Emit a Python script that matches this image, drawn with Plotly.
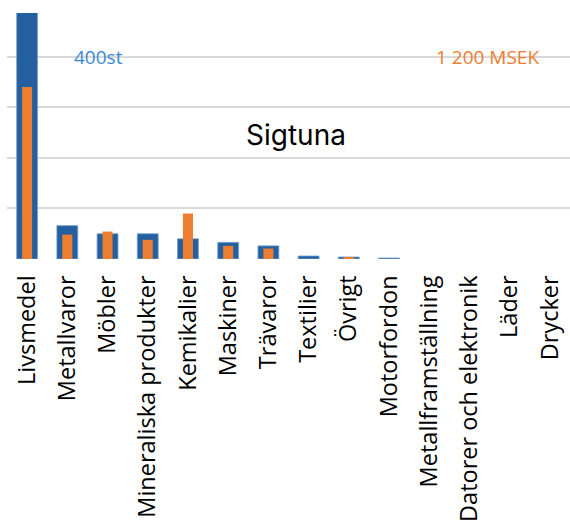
import plotly.graph_objects as go

# Branscher i Sigtuna: antal (st) och omsättning (MSEK)
branscher = ["Livsmedel", "Metallvaror", "Möbler", "Mineraliska produkter", "Kemikalier",
             "Maskiner", "Trävaror", "Textilier", "Övrigt", "Motorfordon",
             "Metallframställning", "Datorer och elektronik", "Läder", "Drycker"]
antal_st = [490, 66, 50, 50, 40, 33, 26, 6, 4, 2, 0, 0, 0, 0]
omsattning_msek = [1022, 145, 163, 114, 270, 78, 62, 0, 9, 0, 0, 0, 0, 0]

BLUE = "#24609F"
ORANGE = "#ED7D31"
ST_MAX = 486.9
MSEK_MAX = ST_MAX * 3

fig = go.Figure()
fig.add_trace(go.Bar(
    x=branscher, y=antal_st, width=0.52,
    marker=dict(color=BLUE,
                line=dict(color="rgba(120,160,210,0.8)",
                          width=[1 if v > 0 else 0 for v in antal_st])),
    yaxis="y", showlegend=False,
))
fig.add_trace(go.Bar(
    x=branscher, y=omsattning_msek, width=0.25,
    marker=dict(color=ORANGE, line=dict(width=0)),
    yaxis="y2", showlegend=False,
))

fig.update_layout(
    width=570, height=525,
    margin=dict(l=7, r=0, t=13, b=265.5),
    paper_bgcolor="white", plot_bgcolor="white",
    barmode="overlay",
    xaxis=dict(
        type="category", tickangle=-90, showgrid=False, zeroline=False,
        ticks="outside", ticklen=6, tickcolor="rgba(0,0,0,0)",
        tickfont=dict(family="Open Sans", size=23.5, color="black"),
    ),
    yaxis=dict(
        range=[0, ST_MAX], dtick=100, showticklabels=False,
        showgrid=True, gridcolor="#d9d9d9", gridwidth=2, zeroline=False,
    ),
    yaxis2=dict(
        range=[0, MSEK_MAX], overlaying="y", side="right",
        showticklabels=False, showgrid=False, zeroline=False,
    ),
    annotations=[
        dict(text="400st", xref="paper", yref="y", x=0.163, y=400,
             xanchor="center", yanchor="middle",
             showarrow=False, font=dict(family="Open Sans", size=19, color="#3A87D6")),
        dict(text="1 200 MSEK", xref="paper", yref="y", x=0.853, y=400,
             xanchor="center", yanchor="middle",
             showarrow=False, font=dict(family="Open Sans", size=19, color=ORANGE)),
        dict(text="Sigtuna", xref="paper", yref="y", x=0.513, y=246,
             xanchor="center", yanchor="middle",
             showarrow=False, font=dict(family="Inter", size=28, color="black")),
    ],
)

fig.write_html("out.html")
